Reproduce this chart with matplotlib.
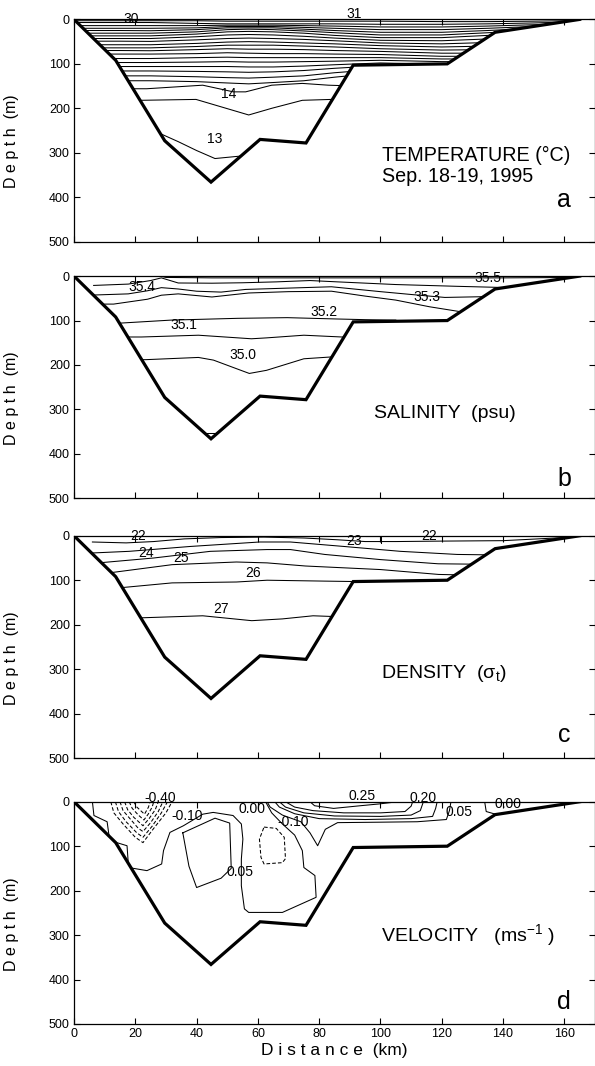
import numpy as np
import matplotlib
matplotlib.use("Agg")
import matplotlib.pyplot as plt
from matplotlib.patches import Polygon

plt.rcParams['font.family'] = ['Liberation Sans', 'DejaVu Sans']

# bottom profile along the section (km, m)
bottom_km = [0, 13.6, 29.6, 44.7, 60.7, 75.7, 91.1, 121.8, 137.4, 165.0]
bottom_m = [0, 92, 273, 366, 270, 278, 103, 100, 29, 0]

# ---- temperature isolines: depth (m) at temp_km
temp_km = [0, 15, 25, 40, 50, 57, 65, 75, 85, 100, 120, 135, 150, 170]
temp_upper = [
    [3, 3, 3, 3, 4, 4, 4, 4, 4, 4, 5, 5, 4, 2],
    [7, 7, 7, 9, 10, 10, 10, 10, 10, 11, 11, 10, 8, 4],
    [14, 14, 14, 14, 13, 13, 13, 14, 15, 17, 17, 15, 12, 8],
    [20, 20, 20, 19, 16, 16, 16, 18, 20, 23, 23, 20, 16, 12],
    [25, 25, 25.5, 23, 19, 19, 19, 22, 25, 29, 29, 25, 20, 16],
    [31, 31, 31, 28, 23, 22, 23, 26, 30, 35, 35, 30, 24, 20],
    [37, 37, 37, 33, 28, 27, 28, 31, 36, 41, 41, 36, 36, 36],
    [43, 43, 43, 39, 35, 34, 35, 38, 42, 47, 48, 44, 44, 44],
    [49, 49, 49.5, 46, 43, 42, 43, 45, 48, 53, 55, 52, 52, 52],
    [57, 57, 57, 54, 51, 50, 51, 53, 55, 59, 62, 60, 60, 60],
    [64, 64, 64, 61, 58, 58, 58, 60, 62, 66, 69, 68, 68, 68],
    [70, 70, 70.5, 68, 66, 67, 67, 68, 70, 72, 76, 76, 76, 76],
    [78, 78, 78, 77, 75, 76, 77, 77, 78, 79, 83, 83, 83, 83],
    [88, 88, 88, 86, 85, 86, 86, 86, 86, 86, 89, 89, 89, 89],
    [97, 97, 97, 96, 95, 96, 96, 95, 94, 92, 95, 95, 95, 95],
    [106, 106, 106, 106, 106, 107, 107, 105, 102, 98, 101, 101, 101, 101],
    [116, 116, 116, 117, 118, 119, 118, 115, 110, 104, 106, 106, 106, 106],
    [127, 127, 127, 129, 131, 132, 130, 127, 120, 112, 112, 112, 112, 112],
    [138, 138, 138, 140, 143, 145, 142, 138, 130, 120, 120, 120, 120, 120],
]
temp_deep = [
    ([15, 23.7, 42, 52, 56, 64.5, 74.5, 83, 92], [156, 156, 148, 163, 163, 148, 144, 148, 150]),
    ([15, 21.8, 39.8, 57, 64.5, 74.5, 84, 92], [182, 182, 180, 215, 200, 182, 180, 180]),
    ([25, 28.5, 34, 40, 46, 53.5, 60], [257, 258, 275, 295, 313, 308, 305]),
]
temp_labels = [('30', 18.8, 0), ('31', 91.5, -12), ('14', 50.5, 167), ('13', 46, 270)]

# ---- salinity isolines
sal_lines = [
    ([28, 30, 45, 60, 80, 100, 120, 140, 166], [0, 3, 4, 4, 4, 4, 4, 4, 3]),
    ([6.4, 17.7, 25, 28.5, 34, 45, 55, 66, 77, 86, 105, 125, 142],
     [21, 18, 10, 4, 15.5, 16, 15, 13, 10, 13, 19, 23, 26]),
    ([6.4, 17.7, 24, 28.5, 34, 40, 48, 56, 70, 84, 100, 111, 121, 136],
     [42.6, 40, 33, 26, 29, 34, 36, 30, 27, 24, 35, 42, 48, 46]),
    ([10, 12.9, 24, 28.5, 34, 45, 57, 70, 84, 95, 105, 116, 126, 130],
     [63, 63, 52, 43, 40, 47, 38, 35, 34, 45, 54, 69, 80, 82]),
    ([12, 14.5, 31.7, 53.4, 69.6, 85.8, 95, 105], [106, 106, 99, 95, 93.5, 96.5, 98, 99]),
    ([16, 22, 40.6, 57.9, 62.8, 75, 87.4, 92], [137, 137, 133, 141, 139, 133, 137, 137]),
    ([20, 23.4, 40.6, 45.5, 52.9, 57.2, 62.8, 75, 83.7, 88], [188, 188, 183, 189, 208, 219, 212, 186, 182, 182]),
    ([42.5, 46.5], [354, 354]),
]
sal_labels = [('35.4', 22, 24), ('35.5', 135, 5), ('35.3', 115, 48), ('35.2', 81.5, 80),
              ('35.1', 36, 110), ('35.0', 55, 178)]

# ---- density (sigma-t) isolines
dens_lines = [
    ([6, 17, 26, 36, 48, 62, 75, 86, 95, 105, 120, 140, 160],
     [14, 16, 13, 7, 4, 3, 5, 9, 13, 13, 12, 11, 4]),
    ([95.3, 100.3, 100.3], [1.5, 1.5, 16.4]),
    ([5, 18, 38, 60.6, 70.6, 88, 106.5, 125, 136], [39, 35, 24, 14, 14, 24, 35, 42, 43]),
    ([8, 26, 44.5, 63, 70.6, 81.8, 100, 118.8, 132], [61, 50, 35, 31, 31, 42, 53.6, 63, 64]),
    ([12, 32, 53, 63, 75.5, 100, 119, 126], [83, 65, 59, 61, 68, 76, 87, 88]),
    ([15, 32, 53, 63, 81.8, 92], [117, 106, 104, 100, 102, 103]),
    ([20, 42, 58, 68, 78, 86], [185, 180, 191, 187, 180, 182]),
]
dens_labels = [('22', 21, 0), ('23', 91.5, 12), ('22', 116, 0), ('24', 23.5, 39),
               ('25', 35, 49), ('26', 58.5, 84), ('27', 48, 165)]

# ---- velocity isolines (solid >= 0, dashed < 0)
vel_solid = [
    ([6, 6.5, 10.8, 11.5], [0, 31, 45, 80]),
    ([13.5, 17.3, 17.8, 23.8, 28.6, 29.2, 31.3, 35.7, 42, 45.4, 51.9, 54.6, 55.1, 54.6,
      54.6, 55.6, 57, 68, 79, 78.6, 75, 74.5, 72, 68, 64.5, 62.5],
     [91, 99, 148, 155, 140, 110, 69, 54, 28, 24, 31, 50, 84, 129,
      189, 241, 249, 249, 215, 166, 148, 110, 75, 50, 25, 0]),
    ([35.5, 46, 50.8, 51.3, 48, 40, 37.5, 35.5], [70, 37, 48, 150, 172, 193, 145, 70]),
    ([63, 64, 68, 74, 77, 79.5, 82, 86, 100, 112, 121.5, 122.5, 123],
     [0, 12, 30, 45, 70, 99, 62, 47, 46, 45, 40, 20, 0]),
    ([65.5, 67, 72, 80, 95, 110, 117, 118, 118.5], [0, 12, 27, 38, 40, 38, 33, 15, 0]),
    ([67, 69, 75, 85, 100, 110, 113, 114], [0, 12, 25, 32, 33, 30, 20, 0]),
    ([69, 72, 78, 88, 100, 108, 110, 110.5], [0, 12, 20, 25, 25, 22, 10, 0]),
    ([77, 78.5, 84.7, 93.4, 99.5, 105.6], [0, 9, 15, 9, 5, 0]),
    ([134, 134.5, 137.5], [0, 22, 28]),
]
vel_dashed = [
    ([12, 13, 16, 20, 22.5, 26, 30, 32], [0, 25, 50, 80, 92, 60, 25, 0]),
    ([13.5, 14.5, 17, 20.5, 22.5, 25.5, 28.5, 30.5], [0, 22, 45, 70, 80, 55, 25, 0]),
    ([15, 16, 18.5, 21, 22.5, 25, 27.5, 29], [0, 20, 40, 60, 67, 47, 22, 0]),
    ([16.5, 17.5, 19.5, 22.5, 24.5, 26.5, 27.5], [0, 18, 35, 54, 38, 18, 0]),
    ([18, 19, 21, 22.8, 24.2, 25.5, 26], [0, 15, 30, 41, 28, 12, 0]),
    ([19.5, 20.5, 23, 24.3, 24.8], [0, 12, 28, 12, 0]),
    ([62, 66, 68.6, 69, 68, 62, 61, 60.5, 62], [57, 60, 80, 128, 137, 140, 125, 84, 57]),
]
vel_labels = [('-0.40', 28, -8), ('-0.10', 37, 31), ('0.00', 58, 17), ('-0.10', 71.5, 46),
              ('0.05', 54, 157), ('0.25', 94, -12), ('0.20', 114, -8), ('0.05', 125.7, 24),
              ('0.00', 141.5, 5)]

panels = [
    dict(bottom=0.7733, lines=[(x, z, '-') for x, z in
                              [(temp_km, d) for d in temp_upper] + temp_deep],
         labels=temp_labels, letter='a', letter_z=423),
    dict(bottom=0.5325, lines=[(x, z, '-') for x, z in sal_lines],
         labels=sal_labels, letter='b', letter_z=472),
    dict(bottom=0.2889, lines=[(x, z, '-') for x, z in dens_lines],
         labels=dens_labels, letter='c', letter_z=463),
    dict(bottom=0.0394, lines=[(x, z, '-') for x, z in vel_solid] +
                             [(x, z, (0, (3.5, 2))) for x, z in vel_dashed],
         labels=vel_labels, letter='d', letter_z=466),
]

fig = plt.figure(figsize=(5.95, 10.66), dpi=100)
axes = []
for p in panels:
    ax = fig.add_axes([0.1244, p['bottom'], 0.8756, 0.2085])
    ax.set_xlim(0, 170)
    ax.set_ylim(500, 0)

    # clip every isoline to the water column
    water = Polygon(list(zip(bottom_km, bottom_m)) + [(170, -2), (0, -2)], closed=True,
                    transform=ax.transData, facecolor='none', edgecolor='none')
    ax.add_patch(water)
    for x, z, ls in p['lines']:
        ln, = ax.plot(x, z, color='k', lw=0.75, ls=ls)
        ln.set_clip_path(water)
    ax.plot(bottom_km, bottom_m, color='k', lw=2.3, solid_joinstyle='miter', zorder=5)

    for txt, x, z in p['labels']:
        ax.text(x, z, txt, fontsize=10, ha='center', va='center', clip_on=False)
    ax.text(160, p['letter_z'], p['letter'], fontsize=18, ha='center', va='baseline')

    ax.set_xticks(np.arange(0, 161, 20))
    ax.set_yticks(np.arange(0, 501, 100))
    ax.tick_params(direction='in', length=4, width=0.8, top=True, right=True,
                   labelsize=9, pad=3)
    for s in ax.spines.values():
        s.set_linewidth(0.9)
    ax.set_ylabel('D e p t h  (m)', fontsize=11.5)
    ax.yaxis.set_label_coords(-0.105, 0.45)
    axes.append(ax)

for ax in axes[:-1]:
    ax.tick_params(labelbottom=False)

axes[0].text(100.5, 306, 'TEMPERATURE (°C)', fontsize=14.2, va='center')
axes[0].text(100.5, 354, 'Sep. 18-19, 1995', fontsize=14.2, va='center')
axes[1].text(98, 309, 'SALINITY  (psu)', fontsize=14, va='center')
axes[2].text(100.3, 310, 'DENSITY  (σ$_{\\mathregular{t}}$)', fontsize=14, va='center')
axes[3].text(100.2, 301, 'VELOCITY   (ms$^{\\mathregular{-1}}$ )', fontsize=14, va='center')

axes[3].set_xlabel('D i s t a n c e  (km)', fontsize=12.5, labelpad=2)

fig.savefig('out.png', dpi=100)
